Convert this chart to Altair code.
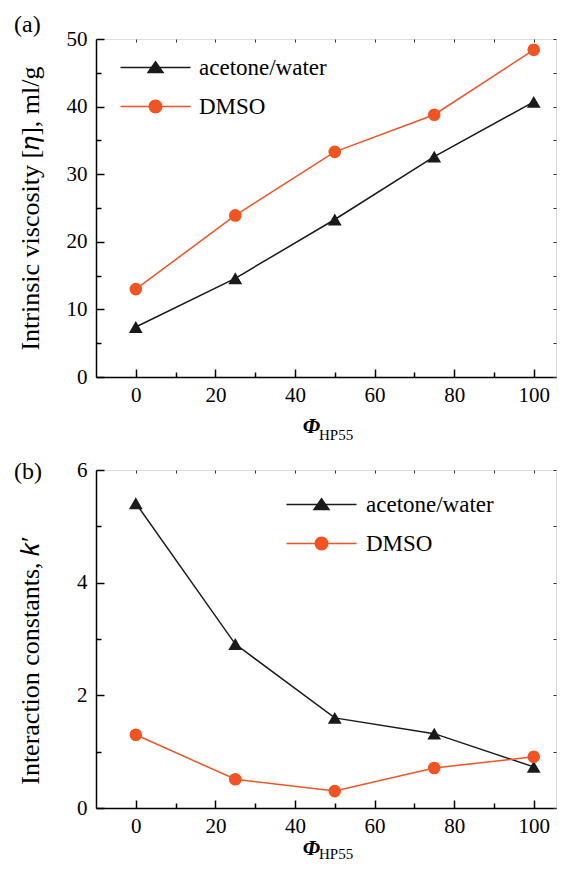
import altair as alt
import pandas as pd

# ---- data ----
phi = [0, 25, 50, 75, 100]
series_names = ["acetone/water", "DMSO"]
visc_acetone = [7.4, 14.6, 23.3, 32.6, 40.7]
visc_dmso = [13.0, 23.9, 33.3, 38.8, 48.4]
k_acetone = [5.41, 2.91, 1.6, 1.32, 0.73]
k_dmso = [1.3, 0.51, 0.3, 0.71, 0.91]

panel_tags = ["(a)", "(b)"]
y_titles = ["Intrinsic viscosity [\U0001D702], ml/g", "Interaction constants, \U0001D458\u2032"]
x_title_main = "Φ"
x_title_sub = "HP55"

x_major = [0, 20, 40, 60, 80, 100]
x_minor = [10, 30, 50, 70, 90]
x_all = [0, 10, 20, 30, 40, 50, 60, 70, 80, 90, 100]
ya_major = [0, 10, 20, 30, 40, 50]
ya_minor = [5, 15, 25, 35, 45]
ya_all = [0, 5, 10, 15, 20, 25, 30, 35, 40, 45, 50]
yb_major = [0, 2, 4, 6]
yb_minor = [1, 3, 5]
yb_all = [0, 1, 2, 3, 4, 5, 6]

colors = ["#1a1a1a", "#f05423"]
SERIF = "Liberation Serif"
W = 460
H = 338

LEG_TRI = "M-4.375,0H4.375M0,-0.72L0.94,0.63L-0.94,0.63Z"
LEG_CIR = "M-4.375,0H4.375M0.78,0A0.78,0.78,0,1,1,-0.78,0A0.78,0.78,0,1,1,0.78,0Z"


def make_panel(v1, v2, ydom, ymaj, ymin, yall, ytitle, ytitle_y, tag, tag_y,
               leg_x, leg_y, leg_off, phi_y, hp_y):
    df = pd.DataFrame({
        "phi": phi + phi,
        "value": v1 + v2,
        "series": [series_names[0]] * len(phi) + [series_names[1]] * len(phi),
    })
    xs = alt.Scale(domain=[-10, 105.6], nice=False, zero=False)
    ys = alt.Scale(domain=ydom, nice=False, zero=False)
    # reversed order so this (legend-less) scale is not merged with the legend scales
    cs = alt.Scale(domain=series_names[::-1], range=colors[::-1])
    base = alt.Chart(df)

    major_x = alt.Axis(values=x_major, title=x_title_main, titleFont=SERIF, titleFontSize=22,
                       titleFontStyle="italic", titleFontWeight="bold", titleColor="black",
                       titleX=215, titleY=phi_y, titleBaseline="middle", titleAlign="center",
                       labelFont=SERIF, labelFontSize=21, labelColor="black", labelPadding=15,
                       labelFlush=False, labelOverlap=False, grid=False,
                       tickSize={"expr": "-8"}, tickColor="black", tickWidth=1.5,
                       domainColor="black", domainWidth=1.5)
    major_y = alt.Axis(values=ymaj, title=ytitle, titleFont=SERIF, titleFontSize=26,
                       titleFontWeight="normal", titleColor="black",
                       titleX=-58, titleY=ytitle_y, titleBaseline="alphabetic", titleAlign="center",
                       labelFont=SERIF, labelFontSize=21, labelColor="black", labelPadding=17,
                       labelFlush=False, labelOverlap=False, grid=False,
                       tickSize={"expr": "-8"}, tickColor="black", tickWidth=1.5,
                       domainColor="black", domainWidth=1.5)
    minor_x = alt.Axis(values=x_minor, title=None, labels=False, domain=False, grid=False,
                       orient="bottom", tickSize={"expr": "-5"}, tickColor="black", tickWidth=1.5)
    minor_y = alt.Axis(values=ymin, title=None, labels=False, domain=False, grid=False,
                       orient="left", tickSize={"expr": "-5"}, tickColor="black", tickWidth=1.5)
    top_x = alt.Axis(values=x_all, title=None, labels=False, domain=False, grid=False,
                     orient="top", tickSize={"expr": "-3"}, tickColor="#333", tickWidth=1)
    right_y = alt.Axis(values=yall, title=None, labels=False, domain=False, grid=False,
                       orient="right", tickSize={"expr": "-3"}, tickColor="#333", tickWidth=1)

    lines = base.mark_line(strokeWidth=1.5).encode(
        x=alt.X("phi:Q", scale=xs, axis=major_x),
        y=alt.Y("value:Q", scale=ys, axis=major_y),
        color=alt.Color("series:N", scale=cs, legend=None),
    )
    tri = base.transform_filter(alt.datum.series == series_names[0]).mark_point(
        shape="triangle-up", filled=True, size=190, opacity=1
    ).encode(
        x=alt.X("phi:Q", scale=xs, axis=minor_x),
        y=alt.Y("value:Q", scale=ys, axis=minor_y),
        color=alt.Color("series:N", scale=cs, legend=None),
    )
    cir = base.transform_filter(alt.datum.series == series_names[1]).mark_point(
        shape="circle", filled=True, size=160, opacity=1
    ).encode(
        x=alt.X("phi:Q", scale=xs, axis=top_x),
        y=alt.Y("value:Q", scale=ys, axis=right_y),
        color=alt.Color("series:N", scale=cs, legend=None),
    )
    leg = alt.Legend(orient="none", legendX=leg_x, legendY=leg_y, title=None,
                     labelFont=SERIF, labelFontSize=23, labelColor="black",
                     labelOffset=leg_off, symbolSize=256, symbolStrokeWidth=1.5,
                     rowPadding=15, padding=0, symbolOpacity=1)
    # invisible carrier of the legend (no position channels, so it sits inside the plot)
    ghost = base.mark_point(filled=True, size=256, opacity=0, strokeWidth=1.5).encode(
        fill=alt.Fill("series:N", scale=alt.Scale(domain=series_names, range=colors), legend=leg),
        stroke=alt.Stroke("series:N", scale=alt.Scale(domain=series_names, range=colors), legend=leg),
        shape=alt.Shape("series:N", scale=alt.Scale(domain=series_names, range=[LEG_TRI, LEG_CIR]),
                        legend=leg),
    )
    tag_txt = alt.Chart(pd.DataFrame({"t": [tag]})).mark_text(
        font=SERIF, fontSize=24, align="left", baseline="middle", color="black"
    ).encode(text="t:N", x=alt.value(-82), y=alt.value(tag_y))
    sub_txt = alt.Chart(pd.DataFrame({"t": [x_title_sub]})).mark_text(
        font=SERIF, fontSize=15, align="left", baseline="middle", color="black"
    ).encode(text="t:N", x=alt.value(223), y=alt.value(H + hp_y))

    return alt.layer(lines, tri, cir, ghost, tag_txt, sub_txt).resolve_axis(
        x="independent", y="independent"
    ).properties(width=W, height=H)


pa = make_panel(visc_acetone, visc_dmso, [0, 50], ya_major, ya_minor, ya_all,
                y_titles[0], H / 2, panel_tags[0], -14, 48, 17, 32, 48, 58)
pb = make_panel(k_acetone, k_dmso, [0, 6], yb_major, yb_minor, yb_all,
                y_titles[1], 190, panel_tags[1], 2, 214, 23, 33, 39, 46)

chart = alt.vconcat(pa, pb, spacing=93, bounds="flush").resolve_scale(
    fill="independent", stroke="independent", shape="independent", color="independent"
).resolve_legend(
    fill="independent", stroke="independent", shape="independent", color="independent"
).configure_view(
    stroke="#222", strokeWidth=1.5
).configure_legend(
    labelFont=SERIF
).configure(background="white", font=SERIF,
            padding={"left": 5, "top": 4, "right": 0, "bottom": 0})

chart.save("out.html", embed_options={"renderer": "svg", "actions": False})
